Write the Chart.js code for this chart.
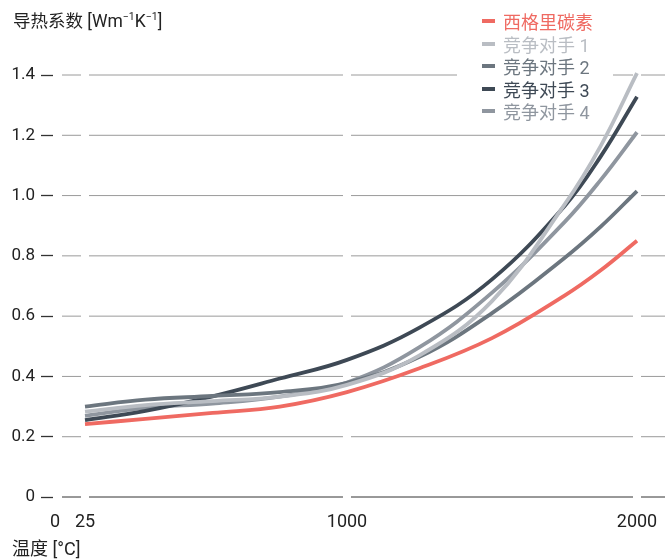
<!DOCTYPE html>
<html><head><meta charset="utf-8">
<script src="https://cdn.jsdelivr.net/npm/chart.js@4"></script>
<style>
html,body{margin:0;padding:0;background:#fff;}
#wrap{position:relative;width:665px;height:560px;font-family:Roboto,'Noto Sans CJK SC',sans-serif;color:#222;overflow:hidden;}
canvas{position:absolute;left:0;top:0;}
.ttl{position:absolute;white-space:nowrap;}
#ytitle{left:13px;top:10px;font-size:17.5px;line-height:22px;}
#xtitle{left:12px;top:538px;font-size:18px;line-height:22px;}
sup{font-size:0.6em;vertical-align:0.65em;line-height:0;}
#legend{position:absolute;left:482px;top:10px;font-size:18px;}
.row{display:flex;align-items:center;height:22.5px;white-space:nowrap;}
.sw{width:13px;height:4px;margin-right:8px;flex:none;}
</style></head><body>
<div id="wrap">
<canvas id="c" width="665" height="560"></canvas>
<div class="ttl" id="ytitle">导热系数 [Wm<sup>−1</sup>K<sup>−1</sup>]</div>
<div class="ttl" id="xtitle">温度 [°C]</div>
<div id="legend"></div>
</div>
<script>
// ---- data ----
const temperatures = [25, 250, 500, 750, 1000, 1250, 1500, 1750, 1875, 2000];
const seriesNames = ['西格里碳素', '竞争对手 1', '竞争对手 2', '竞争对手 3', '竞争对手 4'];
const sglCarbon   = [0.242, 0.259, 0.279, 0.300, 0.348, 0.427, 0.527, 0.668, 0.752, 0.850];
const competitor1 = [0.283, 0.305, 0.318, 0.333, 0.372, 0.470, 0.650, 0.970, 1.165, 1.406];
const competitor2 = [0.300, 0.323, 0.335, 0.348, 0.379, 0.465, 0.610, 0.793, 0.897, 1.015];
const competitor3 = [0.255, 0.286, 0.334, 0.393, 0.455, 0.562, 0.722, 0.965, 1.130, 1.328];
const competitor4 = [0.269, 0.296, 0.310, 0.333, 0.380, 0.497, 0.678, 0.912, 1.052, 1.210];
const seriesValues = [sglCarbon, competitor1, competitor2, competitor3, competitor4];
const xTickValues = [0, 25, 1000, 2000];
const yTickValues = [0, 0.2, 0.4, 0.6, 0.8, 1.0, 1.2, 1.4];

// ---- styles ----
const colors = ['#ef6a62', '#b9bdc3', '#6c767f', '#3e4955', '#8f969f'];
const FONT = "Roboto, 'Noto Sans CJK SC', sans-serif";
// broken temperature axis: value -> fraction of axis width
const X_STOPS = [[0, 0.00327], [25, 0.05229], [1000, 0.48039], [2000, 0.95425]];
// area behind the legend where grid lines are hidden
const LEGEND_BOX = {x: 457, y: 0, w: 156, h: 122};

class PiecewiseScale extends Chart.LinearScale {
  static id = 'piecewise';
  _frac(v) {
    const s = X_STOPS;
    if (v <= s[0][0]) return s[0][1];
    for (let i = 1; i < s.length; i++) {
      if (v <= s[i][0]) {
        const t = (v - s[i-1][0]) / (s[i][0] - s[i-1][0]);
        return s[i-1][1] + t * (s[i][1] - s[i-1][1]);
      }
    }
    const n = s.length - 1;
    const t = (v - s[n-1][0]) / (s[n][0] - s[n-1][0]);
    return s[n-1][1] + t * (s[n][1] - s[n-1][1]);
  }
  getPixelForValue(value) {
    return this.left + this.width * this._frac(value);
  }
  getValueForPixel(pixel) {
    const f = (pixel - this.left) / this.width;
    const s = X_STOPS;
    for (let i = 1; i < s.length; i++) {
      if (f <= s[i][1] || i === s.length - 1) {
        const t = (f - s[i-1][1]) / (s[i][1] - s[i-1][1]);
        return s[i-1][0] + t * (s[i][0] - s[i-1][0]);
      }
    }
  }
}
Chart.register(PiecewiseScale);

const brokenGrid = {
  id: 'brokenGrid',
  beforeDatasetsDraw(chart) {
    const {ctx, chartArea, scales: {x, y}} = chart;
    const gapHalf = 4;
    const startX = chartArea.left + 9;
    const endX = chartArea.right;
    const cuts = x.ticks.map(t => x.getPixelForValue(t.value)).filter(p => p > startX + gapHalf).sort((a, b) => a - b);
    ctx.save();
    y.ticks.forEach(t => {
      const py = y.getPixelForValue(t.value);
      ctx.strokeStyle = t.value === 0 ? '#333' : '#9a9a9a';
      ctx.lineWidth = 1;
      ctx.beginPath();
      let s = startX;
      cuts.forEach(c => { ctx.moveTo(s, py); ctx.lineTo(c - gapHalf, py); s = c + gapHalf; });
      if (s < endX) { ctx.moveTo(s, py); ctx.lineTo(endX, py); }
      ctx.stroke();
    });
    // white backing behind the legend (grid hidden, curves still drawn on top)
    ctx.fillStyle = '#fff';
    ctx.fillRect(LEGEND_BOX.x, LEGEND_BOX.y, LEGEND_BOX.w, LEGEND_BOX.h);
    ctx.restore();
  }
};

const datasets = seriesNames.map((name, i) => ({
  label: name,
  data: temperatures.map((t, j) => ({x: t, y: seriesValues[i][j]})),
  borderColor: colors[i],
  backgroundColor: colors[i],
  borderWidth: 3.8,
  pointRadius: 0,
  tension: 0.4,
  fill: false,
  clip: false
}));

new Chart(document.getElementById('c'), {
  type: 'line',
  data: {datasets},
  plugins: [brokenGrid],
  options: {
    responsive: false,
    animation: false,
    layout: {padding: {top: 75, left: 0, right: 0, bottom: 0}},
    plugins: {legend: {display: false}, tooltip: {enabled: false}, title: {display: false}},
    scales: {
      x: {
        type: 'piecewise', min: 0, max: 2000,
        afterBuildTicks: s => { s.ticks = xTickValues.map(v => ({value: v})); },
        afterFit: s => { s.height = 63; s.paddingLeft = 0; s.paddingRight = 0; },
        grid: {display: false, drawTicks: false},
        border: {display: false},
        ticks: {autoSkip: false, maxRotation: 0, minRotation: 0, padding: 15, color: '#222',
                font: {size: 18, family: FONT}, callback: v => String(v)}
      },
      y: {
        type: 'linear', min: 0, max: 1.4,
        afterBuildTicks: s => { s.ticks = yTickValues.map(v => ({value: v})); },
        afterFit: s => { s.width = 53; },
        grid: {display: true, drawOnChartArea: false, drawTicks: true, tickLength: 12,
               tickColor: '#333', tickWidth: 1.3},
        border: {display: false},
        ticks: {padding: 6, color: '#222', font: {size: 17, family: FONT},
                callback: v => v === 0 ? '0' : Number(v).toFixed(1)}
      }
    }
  }
});

// HTML legend built from the series
const legend = document.getElementById('legend');
seriesNames.forEach((name, i) => {
  const row = document.createElement('div');
  row.className = 'row';
  const sw = document.createElement('span');
  sw.className = 'sw';
  sw.style.background = colors[i];
  const tx = document.createElement('span');
  tx.textContent = name;
  tx.style.color = colors[i];
  row.appendChild(sw); row.appendChild(tx);
  legend.appendChild(row);
});
</script>
</body></html>
